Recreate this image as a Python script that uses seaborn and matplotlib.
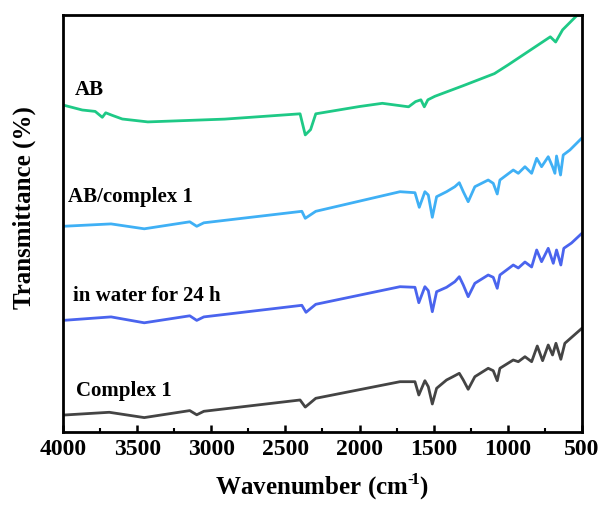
import numpy as np
import pandas as pd
import matplotlib
matplotlib.use("Agg")
import matplotlib.pyplot as plt
import seaborn as sns
from matplotlib.ticker import MultipleLocator

# FTIR spectra, values (arbitrary offset units)
wn_ab = [4000, 3870, 3783, 3735, 3712, 3665, 3600, 3428, 2909, 2401, 2366, 2330, 2295,
         2000, 1846, 1669, 1622, 1586, 1563, 1539, 1492, 1303, 1090, 997, 713, 677, 630,
         536, 500]
t_ab = [327, 322, 320.6, 314.7, 319.2, 316.5, 313, 310.1, 312.9, 318.2, 297.1, 302.4, 318.2,
        325.5, 328.7, 325.2, 330.4, 332.2, 325.2, 332.2, 335.7, 346.2, 358.4, 367.2, 395.2,
        390, 402.2, 416.2, 417.3]

wn_abc = [4000, 3676, 3452, 3145, 3098, 3050, 2389, 2366, 2295, 1727, 1626, 1597, 1559,
          1536, 1509, 1480, 1413, 1357, 1327, 1300, 1267, 1222, 1132, 1098, 1071, 1053,
          963, 929, 884, 839, 805, 772, 727, 698, 682, 671, 644, 626, 581, 500]
t_abc = [205.7, 208.1, 203.2, 210.2, 205.7, 209.2, 220.7, 213.7, 220.7, 240.3, 239.3, 224.7,
         240.3, 237, 214.7, 235.3, 240.3, 245.3, 249.3, 240.3, 230.3, 245.3, 252, 248.7, 238,
         252, 262, 258.7, 265.3, 258.7, 273.7, 265.3, 275.3, 265.3, 258.7, 276, 257, 277,
         282, 294]

wn_w = [4000, 3676, 3452, 3145, 3098, 3050, 2389, 2361, 2295, 1727, 1626, 1600, 1559,
        1536, 1509, 1480, 1413, 1357, 1327, 1300, 1267, 1222, 1132, 1098, 1071, 1053,
        963, 929, 884, 839, 805, 772, 727, 693, 671, 642, 622, 570, 500]
t_w = [111.6, 115.1, 109.2, 116.2, 111.6, 115.1, 126.7, 119.7, 127.7, 145.3, 144.7, 129.3,
       145.3, 141.3, 120.3, 140.3, 144.7, 150.3, 155.3, 147, 135.3, 148.7, 157, 154.7, 143.7,
       157, 167, 164, 170, 165, 182, 170.3, 183.7, 168.7, 182, 167, 183.7, 189, 198.7]

wn_c = [4000, 3688, 3452, 3145, 3098, 3050, 2401, 2366, 2295, 1727, 1626, 1600, 1559,
        1536, 1509, 1480, 1413, 1370, 1327, 1300, 1267, 1222, 1132, 1098, 1071, 1053,
        963, 929, 884, 839, 801, 765, 727, 698, 675, 642, 615, 500]
t_c = [16.9, 19.7, 14.4, 21.4, 17.2, 20.7, 32, 24.9, 33.7, 50.3, 50.3, 37, 51.3, 45.3, 28,
       43.7, 52, 55.3, 58.7, 52, 42.7, 55.3, 63.7, 61.3, 51.3, 63.7, 72, 70.3, 75.3, 70.3,
       86, 71.3, 87, 77, 88.7, 72.7, 88.7, 103.7]

samples = ["AB", "AB/complex 1", "in water for 24 h", "Complex 1"]
colors = ["#1ec986", "#3fb0f5", "#4a64ee", "#444444"]

df = pd.concat([
    pd.DataFrame({"wn": wn_ab, "T": t_ab, "sample": samples[0]}),
    pd.DataFrame({"wn": wn_abc, "T": t_abc, "sample": samples[1]}),
    pd.DataFrame({"wn": wn_w, "T": t_w, "sample": samples[2]}),
    pd.DataFrame({"wn": wn_c, "T": t_c, "sample": samples[3]}),
])

sns.set_style("ticks")
plt.rcParams["font.family"] = ["Liberation Serif", "DejaVu Serif"]
plt.rcParams["font.weight"] = "bold"
plt.rcParams["text.color"] = "black"
plt.rcParams["axes.labelcolor"] = "black"
plt.rcParams["xtick.color"] = "black"
plt.rcParams["mathtext.fontset"] = "custom"
plt.rcParams["mathtext.rm"] = "Liberation Serif:bold"
plt.rcParams["mathtext.bf"] = "Liberation Serif:bold"

fig, ax = plt.subplots(figsize=(6.03, 5.09), dpi=100)
fig.subplots_adjust(left=0.1045, right=0.965, top=0.9705, bottom=0.1513)

sns.lineplot(data=df, x="wn", y="T", hue="sample", palette=dict(zip(samples, colors)),
             estimator=None, sort=True, legend=False, lw=2.0, ax=ax)

# sample labels next to each trace
label_pos = [(3919, 342), (3966, 235), (3933, 136), (3912, 41)]
for s, (x, y) in zip(samples, label_pos):
    ax.text(x, y, s, fontsize=15, fontweight="bold", va="center", ha="left", color="black")

ax.set_xlim(4000, 500)
ax.set_ylim(0, 417)
ax.xaxis.set_major_locator(MultipleLocator(500))
ax.xaxis.set_minor_locator(MultipleLocator(250))
ax.tick_params(axis="x", which="major", direction="in", length=5, width=1.8,
               labelsize=17, pad=5)
ax.tick_params(axis="x", which="minor", direction="in", length=3, width=1.5)
ax.set_yticks([])
for lab in ax.get_xticklabels():
    lab.set_fontweight("bold")
for sp in ax.spines.values():
    sp.set_linewidth(2)
    sp.set_color("black")

ax.set_xlabel("Wavenumber (cm$^{\u2010\\!1}$)", fontsize=18, fontweight="bold", labelpad=8)
ax.set_ylabel("Transmittance (%)", fontsize=18, fontweight="bold")
ax.yaxis.set_label_coords(-0.052, 0.538)

plt.savefig("out.png", dpi=100)
